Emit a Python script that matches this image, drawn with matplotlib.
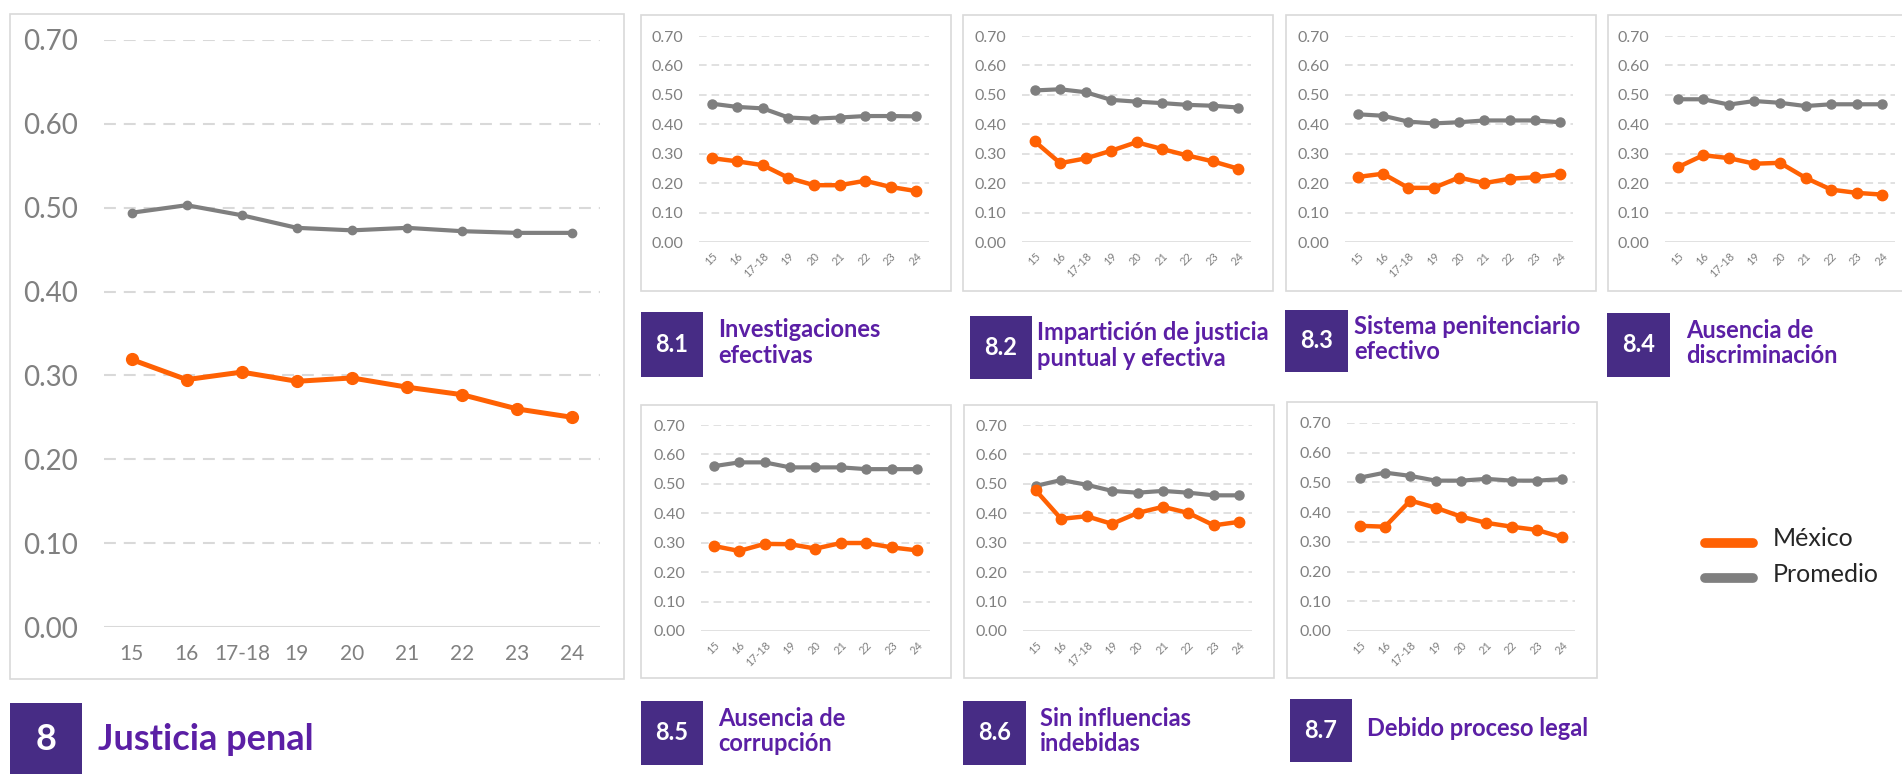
import matplotlib
matplotlib.use('Agg')
import matplotlib.pyplot as plt
from matplotlib.patches import Rectangle
from matplotlib.lines import Line2D

plt.rcParams['font.family'] = ['Lato', 'DejaVu Sans']

# Data
years = ['15', '16', '17-18', '19', '20', '21', '22', '23', '24']

mexico_8 = [0.319, 0.295, 0.304, 0.293, 0.297, 0.286, 0.277, 0.260, 0.250]
promedio_8 = [0.494, 0.503, 0.491, 0.476, 0.473, 0.476, 0.472, 0.470, 0.470]

mexico_81 = [0.285, 0.274, 0.261, 0.218, 0.193, 0.193, 0.208, 0.187, 0.173]
promedio_81 = [0.470, 0.459, 0.454, 0.423, 0.419, 0.423, 0.428, 0.428, 0.427]

mexico_82 = [0.342, 0.268, 0.284, 0.310, 0.339, 0.316, 0.294, 0.274, 0.249]
promedio_82 = [0.515, 0.519, 0.509, 0.483, 0.477, 0.472, 0.466, 0.463, 0.457]

mexico_83 = [0.221, 0.232, 0.184, 0.184, 0.219, 0.200, 0.215, 0.220, 0.230]
promedio_83 = [0.434, 0.429, 0.409, 0.403, 0.407, 0.413, 0.413, 0.413, 0.407]

mexico_84 = [0.254, 0.295, 0.285, 0.266, 0.269, 0.218, 0.178, 0.167, 0.161]
promedio_84 = [0.485, 0.485, 0.467, 0.479, 0.473, 0.462, 0.468, 0.468, 0.468]

mexico_85 = [0.289, 0.272, 0.296, 0.295, 0.280, 0.299, 0.299, 0.284, 0.274]
promedio_85 = [0.560, 0.573, 0.573, 0.556, 0.556, 0.556, 0.550, 0.550, 0.550]

mexico_86 = [0.478, 0.381, 0.390, 0.364, 0.401, 0.422, 0.401, 0.359, 0.371]
promedio_86 = [0.493, 0.513, 0.497, 0.476, 0.470, 0.476, 0.470, 0.461, 0.461]

mexico_87 = [0.354, 0.351, 0.439, 0.415, 0.385, 0.364, 0.351, 0.340, 0.315]
promedio_87 = [0.516, 0.533, 0.522, 0.506, 0.506, 0.512, 0.506, 0.506, 0.511]

sub_codes = ['8.1', '8.2', '8.3', '8.4', '8.5', '8.6', '8.7']
sub_titles = ['Investigaciones\nefectivas', 'Impartición de justicia\npuntual y efectiva',
              'Sistema penitenciario\nefectivo', 'Ausencia de\ndiscriminación',
              'Ausencia de\ncorrupción', 'Sin influencias\nindebidas', 'Debido proceso legal']
sub_mexico = [mexico_81, mexico_82, mexico_83, mexico_84, mexico_85, mexico_86, mexico_87]
sub_promedio = [promedio_81, promedio_82, promedio_83, promedio_84, promedio_85, promedio_86, promedio_87]

# Colours
ORANGE = '#FF6103'
GRAY = '#7F7F7F'
GRID = '#D9D9D9'
TICK = '#808080'
BOX = '#472C85'
TITLE = '#5B1FA5'

W, H = 1902, 774
fig = plt.figure(figsize=(W / 100, H / 100), dpi=100)
fig.patch.set_facecolor('white')


def px_axes(x0, y0, x1, y1):
    return fig.add_axes([x0 / W, 1 - y1 / H, (x1 - x0) / W, (y1 - y0) / H])


def px_rect(x0, y0, x1, y1, **kw):
    r = Rectangle((x0 / W, 1 - y1 / H), (x1 - x0) / W, (y1 - y0) / H,
                  transform=fig.transFigure, zorder=-5, **kw)
    fig.patches.append(r)


def px_text(x, y, s, **kw):
    fig.text(x / W, 1 - y / H, s, **kw)


def style_axes(ax, main=False):
    ax.set_xlim(-0.5, len(years) - 0.5)
    ax.set_ylim(0, 0.70)
    yt = [i / 10 for i in range(8)]
    ax.set_yticks(yt)
    ax.set_yticklabels([f'{v:.2f}' for v in yt])
    ax.set_xticks(range(len(years)))
    for s in ax.spines.values():
        s.set_visible(False)
    ax.set_facecolor('none')
    if main:
        dash = (0, (5.7, 3.8))
        ax.set_xticklabels(years)
        ax.tick_params(axis='y', length=0, pad=19, labelsize=20, labelcolor=TICK)
        ax.tick_params(axis='x', length=0, pad=12, labelsize=15, labelcolor=TICK)
        lw = 1.5
    else:
        dash = (0, (5.0, 3.2))
        ax.set_xticklabels(years, rotation=45, ha='right', rotation_mode='anchor')
        ax.tick_params(axis='y', length=0, pad=11, labelsize=11.5, labelcolor=TICK)
        ax.tick_params(axis='x', length=0, pad=6, labelsize=8, labelcolor=TICK)
        lw = 1.1
    for v in yt[1:]:
        ax.axhline(v, color=GRID, lw=lw, linestyle=dash, zorder=1)
    ax.axhline(0, color=GRID, lw=lw, zorder=1)


# Main panel
px_rect(10, 14, 624, 679, facecolor='white', edgecolor=GRID, lw=1.2)
ax = px_axes(104, 40, 600, 627)
style_axes(ax, main=True)
x = range(len(years))
ax.plot(x, promedio_8, color=GRAY, lw=3.0, marker='o', ms=6, zorder=3, clip_on=False)
ax.plot(x, mexico_8, color=ORANGE, lw=3.6, marker='o', ms=8.5, zorder=4, clip_on=False)

px_rect(10, 703, 82, 774, facecolor=BOX, edgecolor='none')
px_text(46, 740, '8', color='white', fontsize=26, fontweight='bold', ha='center', va='center')
px_text(98, 740, 'Justicia penal', color=TITLE, fontsize=26, fontweight='bold', ha='left', va='center')

# Sub panels: box, axes, label box, label text
sub_boxes = [(641, 15, 951, 291), (963, 15, 1273, 291), (1286, 15, 1596, 291), (1608, 15, 1910, 291),
             (641, 405, 951, 678), (964, 405, 1274, 678), (1287, 402, 1597, 678)]
sub_axes = [(699, 36, 929, 242), (1022, 36, 1251, 242), (1345, 36, 1573, 242), (1665, 36, 1895, 242),
            (701, 425, 930, 631), (1023, 425, 1252, 631), (1347, 423, 1575, 631)]
sub_labels = [(641, 312, 703, 377), (970, 316, 1032, 379), (1285, 310, 1348, 372), (1607, 313, 1670, 377),
              (641, 701, 703, 765), (963, 701, 1026, 765), (1290, 699, 1352, 762)]
sub_text_x = [718, 1037, 1354, 1686, 718, 1040, 1367]

for i in range(len(sub_codes)):
    px_rect(*sub_boxes[i], facecolor='white', edgecolor=GRID, lw=1.2)
    a = px_axes(*sub_axes[i])
    style_axes(a)
    a.plot(x, sub_promedio[i], color=GRAY, lw=3.0, marker='o', ms=6.5, zorder=3, clip_on=False)
    a.plot(x, sub_mexico[i], color=ORANGE, lw=3.2, marker='o', ms=7.5, zorder=4, clip_on=False)

    lx0, ly0, lx1, ly1 = sub_labels[i]
    px_rect(lx0, ly0, lx1, ly1, facecolor=BOX, edgecolor='none')
    px_text((lx0 + lx1) / 2, (ly0 + ly1) / 2, sub_codes[i], color='white', fontsize=17,
            fontweight='bold', ha='center', va='center')
    px_text(sub_text_x[i], (ly0 + ly1) / 2 - 2, sub_titles[i], color=TITLE, fontsize=17,
            fontweight='bold', ha='left', va='center', linespacing=1.15)

# Legend
for yy, col, name in [(543, ORANGE, 'México'), (578, GRAY, 'Promedio')]:
    fig.add_artist(Line2D([1705 / W, 1753 / W], [1 - yy / H, 1 - yy / H], color=col, lw=7,
                          solid_capstyle='round', transform=fig.transFigure))
    px_text(1773, yy - 4, name, color='#262626', fontsize=18, ha='left', va='center')

fig.savefig('out.png', dpi=100, facecolor='white')
